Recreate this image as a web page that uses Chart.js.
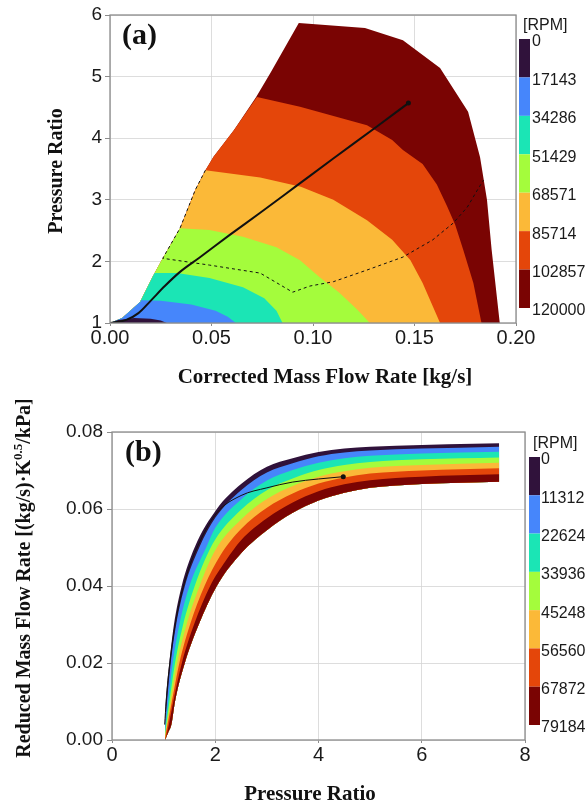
<!DOCTYPE html>
<html>
<head>
<meta charset="utf-8">
<script src="https://cdn.jsdelivr.net/npm/chart.js@4.4.0/dist/chart.umd.min.js"></script>
<style>
  body { margin: 0; background: #fff; }
  canvas { display: block; }
</style>
</head>
<body>
<canvas id="mapA" width="587" height="400"></canvas>
<canvas id="mapB" width="587" height="404"></canvas>
<script>
// colour of each rpm band, lowest rpm first
const bandColors = ['#30123b', '#4686fb', '#1be5b5', '#a4fc3c', '#fbb938', '#e4460a', '#7a0403'];
const rpmLevelsA = [0, 17143, 34286, 51429, 68571, 85714, 102857, 120000];
const rpmLevelsB = [0, 11312, 22624, 33936, 45248, 56560, 67872, 79184];

// (a) corrected mass flow [kg/s] vs pressure ratio
// left (surge) edge of the map, bottom to top
const surgeEdge = [[0.000, 1.00], [0.006, 1.08], [0.0148, 1.34], [0.021, 1.75], [0.026, 2.05],
  [0.0345, 2.54], [0.042, 3.16], [0.047, 3.48], [0.051, 3.70], [0.061, 4.13], [0.072, 4.67],
  [0.079, 5.06], [0.093, 5.87]];
// top and right (choke) edge
const outerEdge = [[0.1256, 5.79], [0.1443, 5.59], [0.1626, 5.14], [0.1764, 4.43], [0.1823, 3.69],
  [0.1857, 3.00], [0.188, 2.19], [0.192, 1.00]];
// speed contours, from the surge edge down to PR = 1
const contour17143 = [[0.004, 1.05], [0.012, 1.08], [0.020, 1.07], [0.025, 1.04], [0.028, 1.00]];
const contour34286 = [[0.0152, 1.37], [0.025, 1.36], [0.040, 1.30], [0.052, 1.20], [0.058, 1.10], [0.062, 1.00]];
const contour51429 = [[0.022, 1.81], [0.033, 1.81], [0.049, 1.73], [0.0655, 1.58], [0.076, 1.40],
  [0.082, 1.20], [0.085, 1.00]];
const contour68571 = [[0.0345, 2.54], [0.049, 2.51], [0.0655, 2.40], [0.082, 2.23], [0.0936, 2.02],
  [0.103, 1.75], [0.113, 1.49], [0.122, 1.21], [0.128, 1.00]];
const contour85714 = [[0.047, 3.48], [0.061, 3.42], [0.074, 3.36], [0.094, 3.21], [0.110, 3.00],
  [0.1266, 2.67], [0.139, 2.35], [0.148, 2.02], [0.154, 1.65], [0.1626, 1.00]];
const contour102857 = [[0.0724, 4.67], [0.0936, 4.51], [0.1266, 4.21], [0.139, 3.97], [0.1443, 3.81],
  [0.154, 3.58], [0.161, 3.25], [0.166, 2.90], [0.170, 2.60], [0.174, 2.19], [0.179, 1.65], [0.183, 1.00]];
const operatingLine = [[0.000, 1.00], [0.008, 1.05], [0.014, 1.16], [0.020, 1.36], [0.027, 1.60],
  [0.0345, 1.83], [0.044, 2.06], [0.059, 2.43], [0.074, 2.79], [0.092, 3.23], [0.110, 3.67],
  [0.1315, 4.19], [0.147, 4.57]];
const dashedLine = [[0.047, 3.48], [0.042, 3.16], [0.0345, 2.54], [0.026, 2.05], [0.049, 1.94],
  [0.074, 1.81], [0.090, 1.50], [0.0985, 1.60], [0.110, 1.67], [0.1266, 1.86], [0.1443, 2.07],
  [0.159, 2.35], [0.169, 2.62], [0.176, 2.88], [0.181, 3.16], [0.184, 3.32]];

// (b) pressure ratio vs reduced mass flow, band edges from top (0 rpm) to bottom
const edge0 = [[1.00, 0.000], [1.03, 0.008], [1.07, 0.015], [1.11, 0.020], [1.20, 0.030], [1.35, 0.040],
  [1.60, 0.050], [2.03, 0.060], [2.50, 0.0665], [3.00, 0.0710], [3.50, 0.0732], [4.00, 0.0748],
  [4.50, 0.0757], [5.50, 0.0764], [6.50, 0.0768], [7.50, 0.0771]];
const edge1 = [[1.00, 0.000], [1.065, 0.010], [1.137, 0.020], [1.243, 0.030], [1.411, 0.040], [1.69, 0.050],
  [2.00, 0.0577], [2.50, 0.0649], [3.00, 0.0695], [3.50, 0.0719], [4.00, 0.0737], [4.50, 0.0747],
  [5.00, 0.0752], [6.00, 0.0757], [7.50, 0.0762]];
const edge2 = [[1.005, 0.000], [1.087, 0.010], [1.176, 0.020], [1.306, 0.030], [1.50, 0.040], [1.824, 0.050],
  [2.00, 0.0551], [2.50, 0.0625], [3.00, 0.0674], [3.50, 0.0701], [4.00, 0.0720], [4.50, 0.0732],
  [5.00, 0.0738], [6.00, 0.0744], [7.50, 0.0749]];
const edge3 = [[1.01, 0.000], [1.113, 0.010], [1.221, 0.020], [1.378, 0.030], [1.602, 0.040], [1.80, 0.0468],
  [2.00, 0.0521], [2.50, 0.0598], [3.00, 0.0649], [3.50, 0.0679], [4.00, 0.0701], [4.50, 0.0714],
  [5.00, 0.0722], [6.00, 0.0729], [7.50, 0.0734]];
const edge4 = [[1.015, 0.000], [1.137, 0.010], [1.263, 0.020], [1.445, 0.030], [1.697, 0.040],
  [2.00, 0.0493], [2.50, 0.0573], [3.00, 0.0626], [3.50, 0.0660], [4.00, 0.0684], [4.50, 0.0698],
  [5.00, 0.0707], [6.00, 0.0714], [7.50, 0.0720]];
const edge5 = [[1.02, 0.000], [1.16, 0.010], [1.305, 0.020], [1.512, 0.030], [1.792, 0.040],
  [2.10, 0.0480], [2.50, 0.0548], [3.00, 0.0603], [3.50, 0.0640], [4.00, 0.0666], [4.50, 0.0682],
  [5.00, 0.0692], [6.00, 0.0700], [7.50, 0.0706]];
const edge6 = [[1.025, 0.000], [1.07, 0.002], [1.188, 0.010], [1.353, 0.020], [1.589, 0.030], [1.901, 0.040],
  [2.20, 0.0465], [2.50, 0.0519], [3.00, 0.0576], [3.50, 0.0617], [4.00, 0.0646], [4.50, 0.0664],
  [5.00, 0.0675], [6.00, 0.0684], [7.50, 0.0690]];
const edge7 = [[1.03, 0.000], [1.09, 0.002], [1.15, 0.004], [1.22, 0.010], [1.41, 0.020], [1.68, 0.030],
  [2.03, 0.040], [2.50, 0.0485], [3.00, 0.0545], [3.50, 0.0590], [4.00, 0.0622], [4.50, 0.0642],
  [5.00, 0.0655], [6.00, 0.0665], [7.50, 0.0671]];
const lineB = [[1.02, 0.004], [1.05, 0.010], [1.12, 0.020], [1.25, 0.032], [1.45, 0.043], [1.70, 0.0515],
  [2.03, 0.059], [2.50, 0.0635], [3.00, 0.0655], [3.50, 0.0670], [4.00, 0.0678], [4.48, 0.0684]];

Chart.defaults.font.family = '"Liberation Sans", Arial, sans-serif';
Chart.defaults.color = '#1a1a1a';

const gridColor = 'rgba(212,212,212,0.8)';
const serif = '"Liberation Serif", "Times New Roman", serif';

function toXY(points) {
  return points.map(p => ({ x: p[0], y: p[1] }));
}

// closed polygon filled inside itself
function polygon(points, color) {
  return {
    data: toXY(points), showLine: true, fill: 'shape', backgroundColor: color,
    borderColor: 'transparent', borderWidth: 0, pointRadius: 0, tension: 0
  };
}

// smooth edge filled down to another dataset
function edgeFill(points, color, target) {
  return {
    data: toXY(points), showLine: true, fill: target, backgroundColor: color,
    borderColor: 'transparent', borderWidth: 0, pointRadius: 0, cubicInterpolationMode: 'monotone'
  };
}

function curve(points, width, dash, smooth) {
  return {
    data: toXY(points), showLine: true, fill: false, borderColor: '#111', borderWidth: width,
    borderDash: dash || [], tension: 0, pointBackgroundColor: '#111', pointBorderWidth: 0,
    cubicInterpolationMode: smooth ? 'monotone' : 'default',
    pointRadius: dash ? 0 : (ctx => ctx.dataIndex === points.length - 1 ? 2.5 : 0)
  };
}

// rpm colour bar sits on a right-hand axis, its range stretched so the bar is shorter than the plot
function barRange(levels, barTop, barBottom, plotHeight) {
  const perPx = (levels[levels.length - 1] - levels[0]) / (barBottom - barTop);
  const min = levels[0] - barTop * perPx;
  return { min: min, max: min + plotHeight * perPx };
}

const frame = {
  id: 'frame',
  afterDraw(chart) {
    const a = chart.chartArea, ctx = chart.ctx;
    ctx.save();
    ctx.strokeStyle = '#8c8c8c';
    ctx.lineWidth = 1.3;
    ctx.strokeRect(a.left, a.top, a.right - a.left, a.bottom - a.top);
    ctx.restore();
  }
};

const colorBar = {
  id: 'colorBar',
  afterDraw(chart, args, opts) {
    const s = chart.scales.rpm, ctx = chart.ctx;
    ctx.save();
    for (let i = 0; i < opts.levels.length - 1; i++) {
      const y0 = s.getPixelForValue(opts.levels[i]);
      const y1 = s.getPixelForValue(opts.levels[i + 1]);
      ctx.fillStyle = bandColors[i];
      ctx.fillRect(s.left + opts.offset, y0, 11, y1 - y0);
    }
    ctx.fillStyle = '#1a1a1a';
    ctx.font = '16px "Liberation Sans", Arial, sans-serif';
    ctx.textBaseline = 'middle';
    ctx.fillText('[RPM]', s.left + opts.offset + 4, s.getPixelForValue(opts.levels[0]) - 13);
    ctx.restore();
  }
};

const labels = {
  id: 'labels',
  afterDraw(chart, args, opts) {
    const ctx = chart.ctx;
    opts.items.forEach(it => {
      ctx.save();
      ctx.translate(it.x, it.y);
      if (it.rot) ctx.rotate(it.rot);
      ctx.fillStyle = '#111';
      ctx.textBaseline = 'alphabetic';
      let w = 0;
      const parts = it.parts.map(p => {
        ctx.font = 'bold ' + p[1] + 'px ' + serif;
        const pw = ctx.measureText(p[0]).width;
        w += pw;
        return { t: p[0], font: ctx.font, w: pw, dy: p[2] || 0 };
      });
      let x = it.left ? 0 : -w / 2;
      parts.forEach(p => {
        ctx.font = p.font;
        ctx.fillText(p.t, x, p.dy);
        x += p.w;
      });
      ctx.restore();
    });
  }
};

function axisX(min, max, step, digits, height) {
  return {
    type: 'linear', min: min, max: max, z: 1,
    ticks: { stepSize: step, callback: v => v.toFixed(digits), font: { size: 20 }, padding: 0, maxRotation: 0 },
    grid: { color: gridColor, tickColor: '#8c8c8c', tickLength: 3 },
    border: { display: false },
    afterFit: s => { s.height = height; }
  };
}

function axisY(min, max, step, digits, width, pad) {
  return {
    type: 'linear', min: min, max: max, z: 1,
    ticks: { stepSize: step, callback: v => v.toFixed(digits), font: { size: 19 }, padding: pad },
    grid: { color: gridColor, tickColor: '#8c8c8c', tickLength: 5 },
    border: { display: false },
    afterFit: s => { s.width = width; }
  };
}

// invisible tick marks push the labels past the colour bar without adding vertical padding
function axisRpm(levels, range, width) {
  return {
    type: 'linear', position: 'right', reverse: true, min: range.min, max: range.max,
    grid: { display: true, drawOnChartArea: false, drawTicks: true, tickLength: 16, color: 'rgba(0,0,0,0)' },
    border: { display: false },
    ticks: { font: { size: 16 }, padding: 0, labelOffset: 3, autoSkip: false, callback: v => String(v) },
    afterBuildTicks: s => { s.ticks = levels.map(v => ({ value: v })); },
    afterFit: s => { s.width = width; }
  };
}

// ---------- (a) ----------
const contoursA = [contour17143, contour34286, contour51429, contour68571, contour85714, contour102857];
const regionsA = contoursA.map((c, i) =>
  polygon(surgeEdge.filter(p => p[1] < c[0][1]).concat(c), bandColors[i]));

new Chart(document.getElementById('mapA'), {
  type: 'scatter',
  data: {
    datasets: [curve(operatingLine, 2, null, true), curve(dashedLine, 1, [3, 3])]
      .concat(regionsA)
      .concat([polygon(surgeEdge.concat(outerEdge), bandColors[6])])
  },
  options: {
    responsive: false, animation: false, events: [],
    layout: { padding: { top: 15, left: 0, right: 0, bottom: 0 } },
    plugins: {
      legend: { display: false }, tooltip: { enabled: false },
      colorBar: { levels: rpmLevelsA, offset: 3 },
      labels: {
        items: [
          { x: 122, y: 44, left: true, parts: [['(a)', 30]] },
          { x: 325, y: 383, parts: [['Corrected Mass Flow Rate [kg/s]', 21]] },
          { x: 62, y: 171, rot: -Math.PI / 2, parts: [['Pressure Ratio', 20]] }
        ]
      }
    },
    scales: {
      x: axisX(0, 0.2, 0.05, 2, 77),
      y: axisY(1, 6, 1, 0, 110, 3),
      rpm: axisRpm(rpmLevelsA, barRange(rpmLevelsA, 24, 293, 308), 71)
    }
  },
  plugins: [frame, colorBar, labels]
});

// ---------- (b) ----------
// each edge is filled down to the lowest edge; the upper, wider bands are drawn first
const edgesB = [edge0, edge1, edge2, edge3, edge4, edge5, edge6];
const lowestIndex = edgesB.length + 1;
const bandsB = edgesB.map((e, i) => edgeFill(e, bandColors[i], lowestIndex)).reverse();

new Chart(document.getElementById('mapB'), {
  type: 'scatter',
  data: {
    datasets: [curve(lineB, 1, null, true)].concat(bandsB).concat([edgeFill(edge7, 'transparent', false)])
  },
  options: {
    responsive: false, animation: false, events: [],
    layout: { padding: { top: 32, left: 0, right: 0, bottom: 0 } },
    plugins: {
      legend: { display: false }, tooltip: { enabled: false },
      colorBar: { levels: rpmLevelsB, offset: 4 },
      labels: {
        items: [
          { x: 125, y: 61, left: true, parts: [['(b)', 30]] },
          { x: 310, y: 400, parts: [['Pressure Ratio', 21]] },
          { x: 30, y: 178, rot: -Math.PI / 2,
            parts: [['Reduced Mass Flow Rate [(kg/s)·K', 20], ['0.5', 13, -8], ['/kPa]', 20]] }
        ]
      }
    },
    scales: {
      x: axisX(0, 8, 2, 0, 64),
      y: axisY(0, 0.08, 0.02, 2, 112, 4),
      rpm: axisRpm(rpmLevelsB, barRange(rpmLevelsB, 25, 293, 308), 62)
    }
  },
  plugins: [frame, colorBar, labels]
});
</script>
</body>
</html>
